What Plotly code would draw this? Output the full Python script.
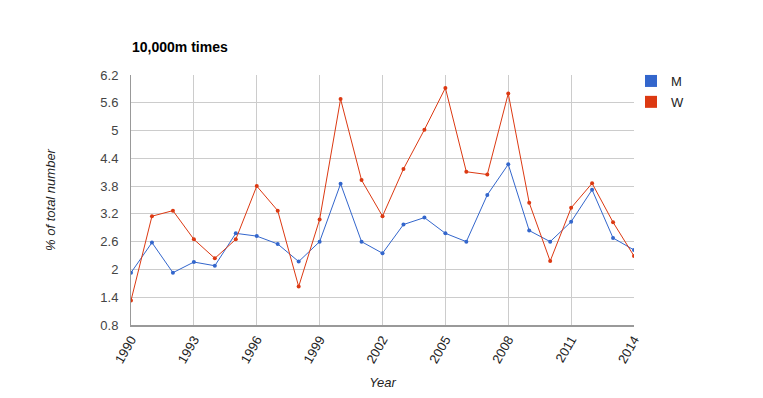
import plotly.graph_objects as go

years = list(range(1990, 2015))
men = [1.93, 2.58, 1.93, 2.16, 2.08, 2.78, 2.72, 2.55, 2.17, 2.60, 3.85, 2.60,
       2.35, 2.97, 3.12, 2.78, 2.60, 3.61, 4.27, 2.84, 2.60, 3.03, 3.72, 2.68, 2.42]
women = [1.33, 3.15, 3.27, 2.65, 2.24, 2.65, 3.80, 3.27, 1.63, 3.08, 5.68, 3.93,
         3.15, 4.17, 5.02, 5.92, 4.11, 4.05, 5.80, 3.44, 2.18, 3.33, 3.86, 3.02, 2.29]
series_names = ["M", "W"]
colors = ["#3366cc", "#dc3912"]
y_ticks = [0.8, 1.4, 2, 2.6, 3.2, 3.8, 4.4, 5, 5.6, 6.2]
y_tick_text = ["0.8", "1.4", "2", "2.6", "3.2", "3.8", "4.4", "5", "5.6", "6.2"]
x_ticks = list(range(1990, 2015, 3))

font = "Arial, Liberation Sans, sans-serif"

# page body has an 8px margin; size the figure to fit the 763x398 window
W, H = 755, 390

fig = go.Figure()
for name, vals, c in zip(series_names, [men, women], colors):
    fig.add_trace(go.Scatter(x=years, y=vals, name=name, mode="lines+markers",
                             line=dict(color=c, width=1),
                             marker=dict(color=c, size=4),
                             showlegend=False, legendgroup=name))
# legend-only square swatches
for name, c in zip(series_names, colors):
    fig.add_trace(go.Scatter(x=[None], y=[None], name=name, mode="markers",
                             marker=dict(color=c, size=12, symbol="square"),
                             showlegend=True, legendgroup=name))

fig.update_layout(
    width=W, height=H,
    margin=dict(l=123, r=129, t=67, b=73, autoexpand=False),
    paper_bgcolor="white", plot_bgcolor="white",
    font=dict(family=font, size=13, color="#222"),
    title=dict(text="<b>10,000m times</b>", x=124/W, xanchor="left",
               y=1 - 39/H, yanchor="middle", yref="container",
               font=dict(size=14, color="#000")),
    showlegend=True,
    legend=dict(x=0.994, xanchor="left", y=1.036, yanchor="top",
                font=dict(size=13, color="#222"), itemwidth=30,
                tracegroupgap=1, bgcolor="rgba(0,0,0,0)"),
    xaxis=dict(range=[1990, 2014], tickvals=x_ticks, tickangle=-60,
               showgrid=True, gridcolor="#cccccc", gridwidth=1,
               showline=True, linecolor="#999999", linewidth=2,
               zeroline=False, ticks="", tickfont=dict(size=13, color="#222"),
               automargin=False,
               title=dict(text="<i>Year</i>", font=dict(size=13, color="#222"), standoff=13)),
    yaxis=dict(range=[0.8, 6.2], tickvals=y_ticks, ticktext=y_tick_text,
               showgrid=True, gridcolor="#cccccc", gridwidth=1,
               showline=True, linecolor="#999999", linewidth=1,
               zeroline=False, ticks="", tickfont=dict(size=13, color="#444"),
               ticklabelstandoff=9,
               automargin=False,
               title=dict(text="<i>% of total number</i>", font=dict(size=13, color="#222"), standoff=41)),
)

fig.write_html("out.html")
